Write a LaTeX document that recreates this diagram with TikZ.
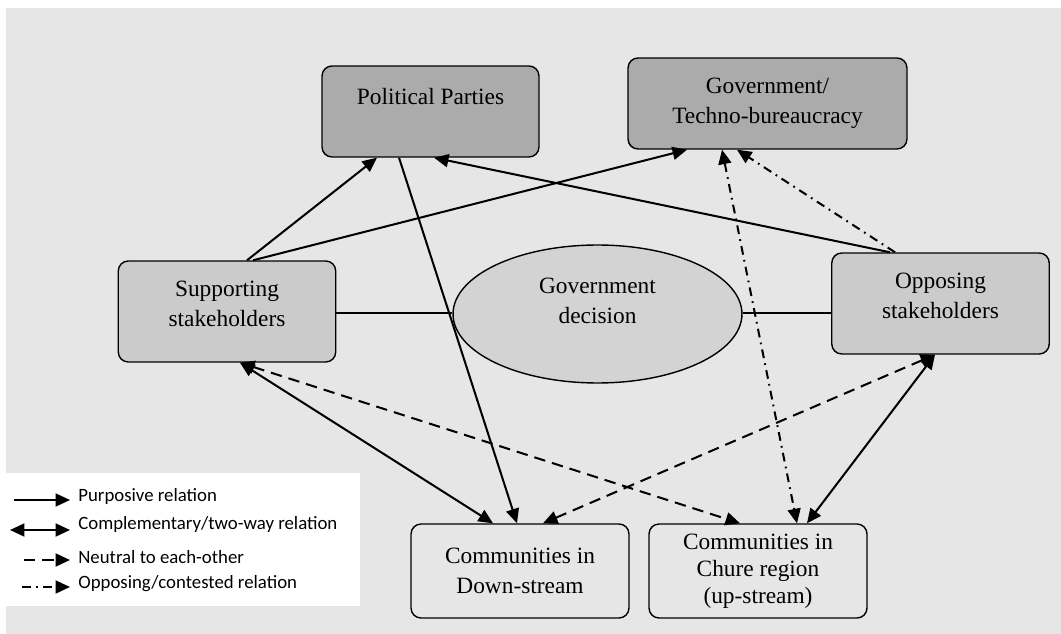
\documentclass[tikz,border=0pt]{standalone}
\usepackage{fontspec}
\setmainfont{Liberation Serif}
\newfontfamily\legendfont{Carlito}
\usetikzlibrary{arrows.meta,shapes.geometric}

\definecolor{bggray}{HTML}{E6E6E6}
\definecolor{darkfill}{HTML}{ABABAB}
\definecolor{midfill}{HTML}{CBCBCB}
\definecolor{ellfill}{HTML}{D3D3D3}

\begin{document}
\begin{tikzpicture}[x=0.02cm,y=-0.02cm,
  >={Triangle[length=0.29cm,width=0.26cm]},
  box/.style={draw,rounded corners=0.2cm,line width=0.8pt,align=center,inner sep=0pt,
    font=\fontsize{13.3}{17}\selectfont},
  topbox/.style={box,fill=darkfill,minimum height=1.82cm},
  sidebox/.style={box,fill=midfill,minimum width=4.35cm,minimum height=2.02cm},
  lowbox/.style={box,minimum width=4.36cm,minimum height=1.88cm},
  purposive/.style={line width=1.15pt,->},
  twoway/.style={line width=1.15pt,<->},
  neutral/.style={line width=1.15pt,dash pattern=on 6.5pt off 4pt,<->},
  contested/.style={line width=1.15pt,dash pattern=on 5pt off 3pt on 1pt off 3pt,->},
  legtext/.style={anchor=west,inner sep=0pt,font=\legendfont\fontsize{10.7}{13}\selectfont}]
\useasboundingbox (0,0) rectangle (1061,634);
% background and legend panel
\fill[white] (0,0) rectangle (1061,634);
\fill[bggray] (6,8) rectangle (1061,634);
\fill[white] (6,473) rectangle (360,606);

% actors
\node[topbox,minimum width=4.34cm] (pp) at (430.5,111.5) {Political Parties\\ \mbox{}};
\node[topbox,minimum width=5.58cm] (gov) at (767.5,103.5) {Government/\\Techno-bureaucracy};
\node[sidebox] (sup) at (227,311.5) {Supporting\\stakeholders\\[-8pt]\mbox{}};
\node[sidebox] (opp) at (940.5,303.5) {Opposing\\stakeholders\\[-8pt]\mbox{}};
\node[ellipse,draw,line width=0.8pt,fill=ellfill,minimum width=5.78cm,minimum height=2.76cm,
  inner sep=0pt,align=center,font=\fontsize{13.3}{17}\selectfont] (dec) at (597.5,314)
  {Government\\decision\\[-2pt]\mbox{}};
\node[lowbox] (down) at (520,571) {Communities in\\Down-stream};
\node[lowbox,font=\fontsize{13.3}{15.5}\selectfont] (chure) at (758,571)
  {Communities in\\Chure region\\(up-stream)};

% relations
\draw[line width=0.8pt] (sup.east |- 0,313) -- (dec.west |- 0,313);
\draw[line width=0.8pt] (dec.east |- 0,313) -- (opp.west |- 0,313);
\draw[purposive] ([xshift=0.4cm]sup.north) -- ([xshift=-1.07cm]pp.south);
\draw[purposive] ([xshift=0.52cm]sup.north) -- ([xshift=-1.61cm]gov.south);
\draw[purposive] ([xshift=-1.01cm]opp.north) -- ([xshift=0.07cm]pp.south);
\draw[contested] ([xshift=-0.91cm]opp.north) -- ([xshift=-0.61cm]gov.south);
\draw[purposive] ([xshift=-0.63cm]pp.south) -- ([xshift=-0.06cm]down.north);
\draw[twoway] ([xshift=0.26cm]sup.south) -- ([xshift=-0.54cm]down.north);
\draw[neutral] ([xshift=0.26cm]sup.south) -- ([xshift=-0.36cm]chure.north);
\draw[neutral] ([xshift=-0.11cm]opp.south) -- ([xshift=0.46cm]down.north);
\draw[twoway] ([xshift=-0.11cm]opp.south) -- ([xshift=0.98cm]chure.north);
\draw[contested,<->] ([xshift=-0.91cm]gov.south) -- ([xshift=0.78cm]chure.north);

% legend
\coordinate (l1a) at (14,500);  \coordinate (l1b) at (70,500);
\coordinate (l2a) at (10,530);  \coordinate (l2b) at (70,530);
\coordinate (l3a) at (24,560);  \coordinate (l3b) at (70,560);
\coordinate (l4a) at (22,587);  \coordinate (l4b) at (70,587);
\draw[purposive] (l1a) -- (l1b);
\draw[twoway] (l2a) -- (l2b);
\draw[neutral,->] (l3a) -- (l3b);
\draw[contested] (l4a) -- (l4b);
\node[legtext] (t1) at (78,496) {Purposive relation};
\node[legtext] (t2) at (78,524) {Complementary/two-way relation};
\node[legtext] (t3) at (78,557) {Neutral to each-other};
\node[legtext] (t4) at (78,584) {Opposing/contested relation};
\end{tikzpicture}
\end{document}
